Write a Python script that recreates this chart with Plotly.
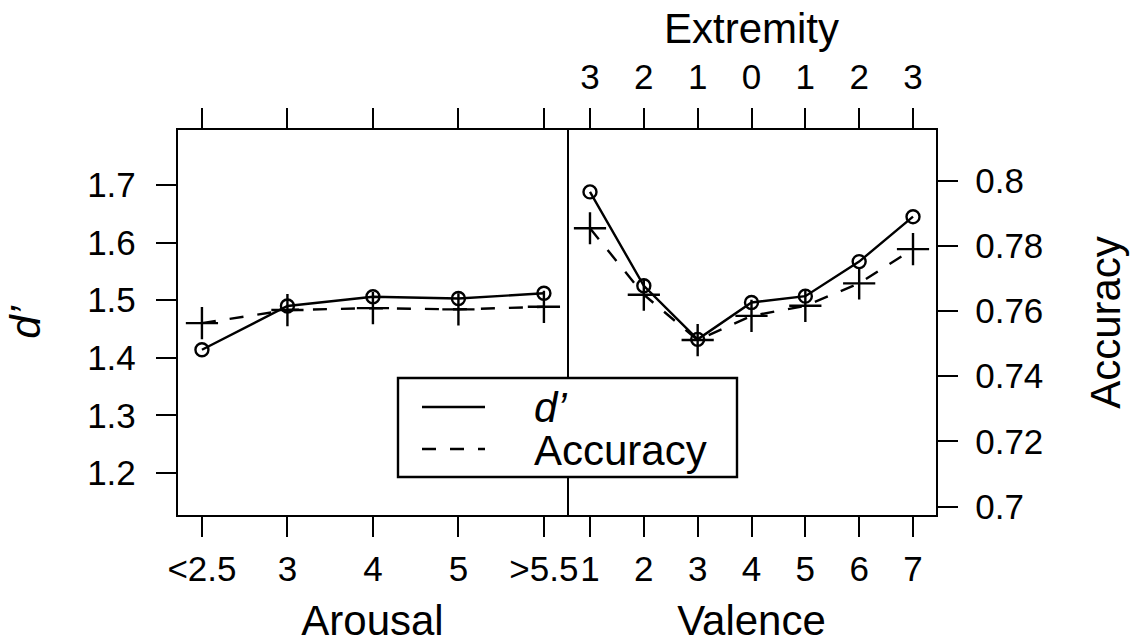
import plotly.graph_objects as go

# ---- data ----
arousal_cats = ["<2.5", "3", "4", "5", ">5.5"]
arousal_dprime = [1.414, 1.490, 1.506, 1.503, 1.512]
arousal_acc = [0.7563, 0.7603, 0.7609, 0.7605, 0.7613]

valence_vals = [1, 2, 3, 4, 5, 6, 7]
valence_dprime = [1.688, 1.525, 1.432, 1.496, 1.507, 1.567, 1.645]
valence_acc = [0.7854, 0.7650, 0.7511, 0.7585, 0.7616, 0.7685, 0.7790]

extremity_labels = ["3", "2", "1", "0", "1", "2", "3"]

dprime_ticks = [1.2, 1.3, 1.4, 1.5, 1.6, 1.7]
dprime_ticktext = ["1.2", "1.3", "1.4", "1.5", "1.6", "1.7"]
acc_ticks = [0.7, 0.72, 0.74, 0.76, 0.78, 0.8]
acc_ticktext = ["0.7", "0.72", "0.74", "0.76", "0.78", "0.8"]

legend_names = ["<i>d’</i>", "Accuracy"]

FONT = "Liberation Sans, Arial, Helvetica, sans-serif"
TICK_SIZE = 35
TITLE_SIZE = 42
LW = 2.4
DASH = "14px,14px"

circle = dict(symbol="circle-open", size=13, color="black", line=dict(width=2.4, color="black"))
plus = dict(symbol="cross-thin-open", size=23, color="black", line=dict(width=2.4, color="black"))

fig = go.Figure()

# Left panel (Arousal)
fig.add_trace(go.Scatter(x=arousal_cats, y=arousal_dprime, xaxis="x", yaxis="y",
                         mode="lines+markers", line=dict(color="black", width=LW),
                         marker=circle, name="d'", showlegend=False))
fig.add_trace(go.Scatter(x=arousal_cats, y=arousal_acc, xaxis="x", yaxis="y2",
                         mode="lines+markers", line=dict(color="black", width=LW, dash=DASH),
                         marker=plus, name="Accuracy", showlegend=False))

# Right panel (Valence)
fig.add_trace(go.Scatter(x=valence_vals, y=valence_dprime, xaxis="x2", yaxis="y",
                         mode="lines+markers", line=dict(color="black", width=LW),
                         marker=circle, name="d'", showlegend=False))
fig.add_trace(go.Scatter(x=valence_vals, y=valence_acc, xaxis="x2", yaxis="y2",
                         mode="lines+markers", line=dict(color="black", width=LW, dash=DASH),
                         marker=plus, name="Accuracy", showlegend=False))
# invisible trace so the top Extremity axis is drawn
fig.add_trace(go.Scatter(x=valence_vals, y=valence_acc, xaxis="x3", yaxis="y2",
                         mode="markers", marker=dict(opacity=0), hoverinfo="skip",
                         showlegend=False))

W, H = 1134, 644
PL, PR, PT, PB = 178, 936, 130, 515          # plot-area edges in window pixels
L, T = PL, PT
R, B = W - PR, H - PB
split = (567 - PL) / (PR - PL)

axis_common = dict(showline=True, linecolor="black", linewidth=2.4,
                   ticks="outside", ticklen=20, tickwidth=2.4, tickcolor="black",
                   showgrid=False, zeroline=False, automargin=False,
                   tickfont=dict(family=FONT, size=TICK_SIZE, color="black"))

fig.update_layout(
    width=W, height=H,
    margin=dict(l=L, r=R, t=T, b=B, autoexpand=False),
    paper_bgcolor="white", plot_bgcolor="white",
    font=dict(family=FONT, color="black"),
    showlegend=False,
    xaxis=dict(**axis_common, domain=[0, split], anchor="y", type="category",
               categoryorder="array", categoryarray=arousal_cats,
               range=[-0.28, 4.27], mirror="ticks",
               title=dict(text="Arousal", font=dict(size=TITLE_SIZE, family=FONT), standoff=24),
               ticklabelstandoff=2),
    xaxis2=dict(**axis_common, domain=[split, 1], anchor="y", range=[0.573, 7.427],
                tickvals=valence_vals, mirror=True,
                title=dict(text="Valence", font=dict(size=TITLE_SIZE, family=FONT), standoff=24),
                ticklabelstandoff=2),
    xaxis3=dict(**axis_common, overlaying="x2", side="top", anchor="y",
                range=[0.573, 7.427], tickvals=valence_vals, ticktext=extremity_labels,
                title=dict(text="Extremity", font=dict(size=TITLE_SIZE, family=FONT), standoff=0),
                ticklabelstandoff=5),
    yaxis=dict(**axis_common, domain=[0, 1], anchor="x", range=[1.127, 1.7955],
               tickvals=dprime_ticks, ticktext=dprime_ticktext, mirror=True,
               title=dict(text="<i>d’</i>", font=dict(size=TITLE_SIZE, family=FONT), standoff=33),
               ticklabelstandoff=13),
    yaxis2=dict(**axis_common, overlaying="y", side="right", anchor="x2",
                range=[0.6974, 0.81556], tickvals=acc_ticks, ticktext=acc_ticktext,
                title=dict(text="Accuracy", font=dict(size=TITLE_SIZE, family=FONT), standoff=48),
                ticklabelstandoff=10),
)

# legend box drawn in the style of the original (lattice key)
def px_x(v):
    return (v - PL) / (PR - PL)

def px_y(v):
    return (PB - v) / (PB - PT)

fig.add_shape(type="rect", xref="paper", yref="paper",
              x0=px_x(398), x1=px_x(737), y0=px_y(477), y1=px_y(378),
              line=dict(color="black", width=2.4), fillcolor="white", layer="above")
fig.add_shape(type="line", xref="paper", yref="paper",
              x0=px_x(422), x1=px_x(485), y0=px_y(407), y1=px_y(407),
              line=dict(color="black", width=LW), layer="above")
fig.add_shape(type="line", xref="paper", yref="paper",
              x0=px_x(422), x1=px_x(485), y0=px_y(449), y1=px_y(449),
              line=dict(color="black", width=LW, dash=DASH), layer="above")
fig.add_annotation(text=legend_names[0], xref="paper", yref="paper",
                   x=px_x(532), y=px_y(407), xanchor="left", yanchor="middle",
                   showarrow=False, font=dict(family=FONT, size=TITLE_SIZE, color="black"))
fig.add_annotation(text=legend_names[1], xref="paper", yref="paper",
                   x=px_x(532), y=px_y(450), xanchor="left", yanchor="middle",
                   showarrow=False, font=dict(family=FONT, size=TITLE_SIZE, color="black"))

# remove the default 8px page margin so the figure fills the 1134x644 window exactly
fig.write_html("out.html", config={"displayModeBar": False},
               post_script="document.body.style.margin='0';document.body.style.overflow='hidden';")
